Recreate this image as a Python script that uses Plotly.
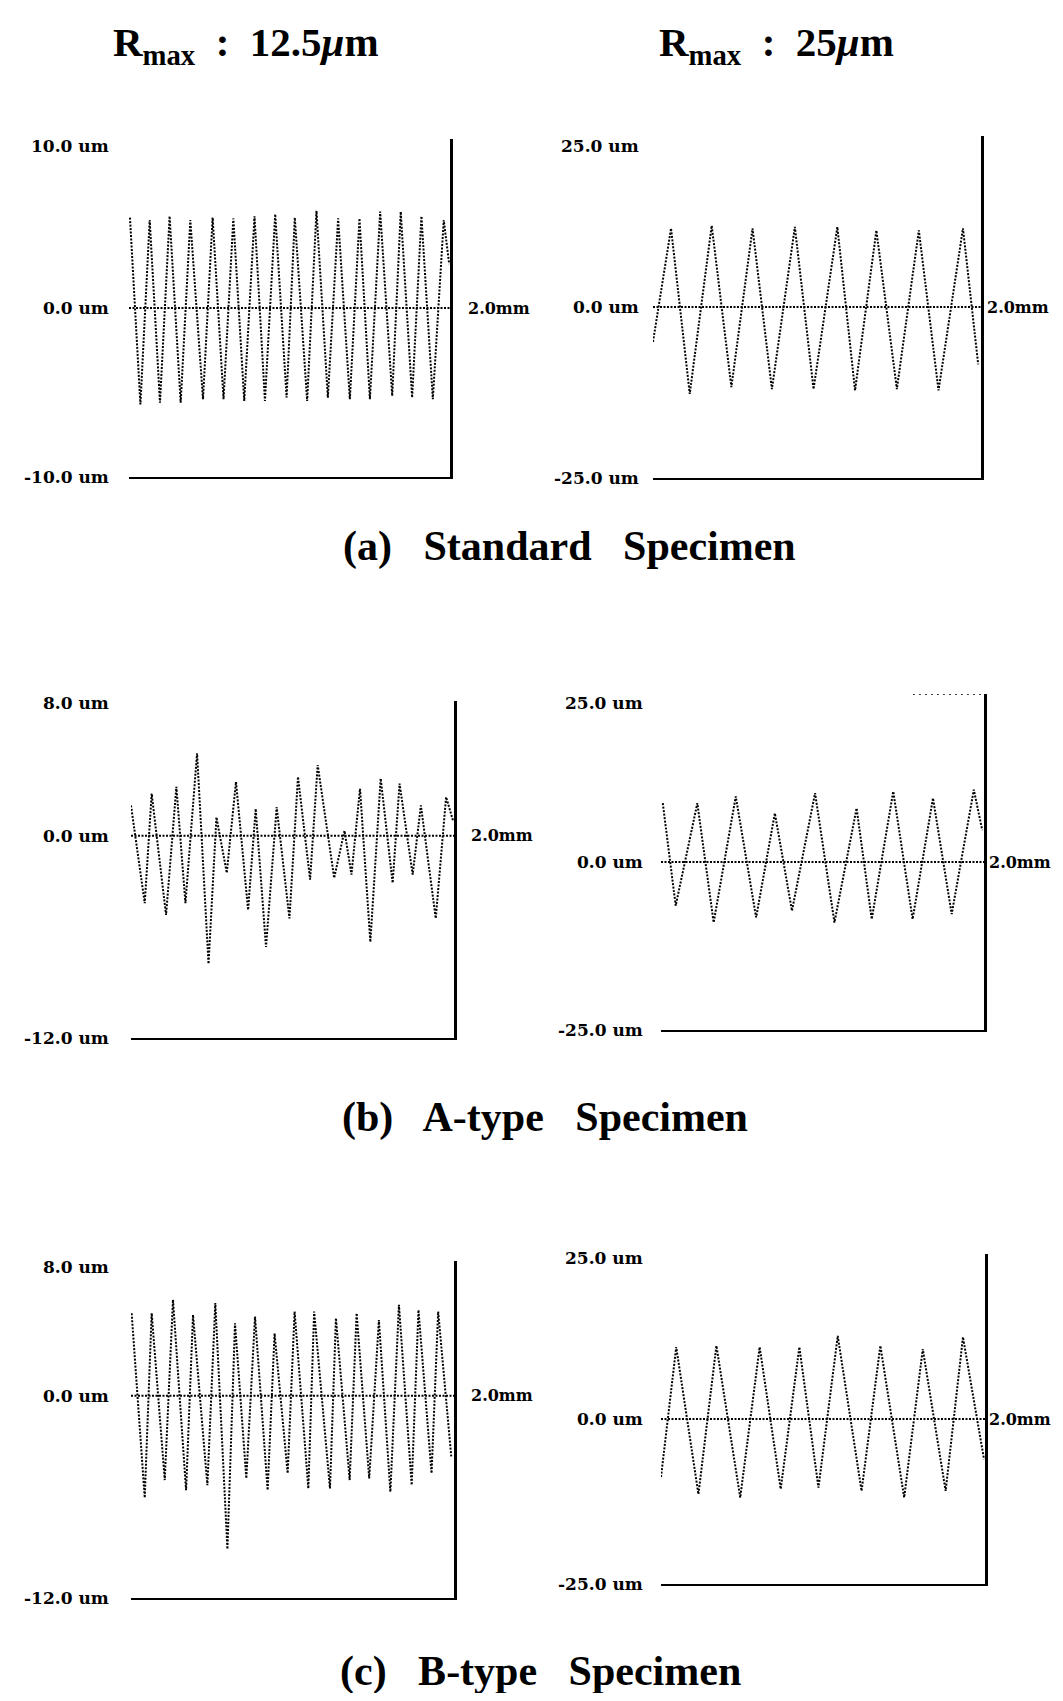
import plotly.graph_objects as go

# ---------------- data (x in mm, y in um) ----------------
a125_x = [0.006, 0.071, 0.129, 0.193, 0.253, 0.322, 0.382, 0.461, 0.521, 0.589, 0.650, 0.718,
          0.782, 0.847, 0.911, 0.982, 1.033, 1.110, 1.168, 1.239, 1.303, 1.376, 1.436, 1.501,
          1.565, 1.640, 1.693, 1.764, 1.822, 1.893, 1.961, 1.995]
a125_y = [5.35, -5.7, 5.2, -5.6, 5.43, -5.6, 5.2, -5.4, 5.35, -5.4, 5.3, -5.5,
          5.43, -5.5, 5.55, -5.3, 5.35, -5.5, 5.75, -5.3, 5.3, -5.4, 5.3, -5.4,
          5.7, -5.2, 5.7, -5.3, 5.43, -5.4, 5.2, 2.6]

a25_x = [0.0, 0.110, 0.224, 0.358, 0.478, 0.607, 0.725, 0.865, 0.979, 1.124, 1.232, 1.362,
         1.487, 1.621, 1.741, 1.890, 1.983]
a25_y = [-5.1, 11.5, -12.7, 11.9, -11.7, 11.5, -12.0, 11.7, -12.0, 11.7, -12.2, 11.2,
         -12.0, 11.2, -12.2, 11.5, -8.4]

b125_x = [0.0, 0.085, 0.128, 0.217, 0.281, 0.337, 0.409, 0.480, 0.529, 0.593, 0.650, 0.725,
          0.772, 0.836, 0.902, 0.981, 1.034, 1.109, 1.156, 1.258, 1.322, 1.365, 1.418, 1.482,
          1.546, 1.620, 1.663, 1.744, 1.795, 1.887, 1.951, 1.994]
b125_y = [1.8, -4.0, 2.5, -4.7, 2.9, -4.0, 4.9, -7.6, 1.1, -2.2, 3.2, -4.4,
          1.6, -6.6, 1.7, -4.9, 3.5, -2.6, 4.2, -2.5, 0.3, -2.3, 2.8, -6.3,
          3.4, -2.8, 3.1, -2.3, 1.8, -4.9, 2.3, 0.9]

b25_x = [0.011, 0.091, 0.225, 0.326, 0.463, 0.589, 0.705, 0.811, 0.954, 1.074, 1.211, 1.305,
         1.438, 1.558, 1.684, 1.800, 1.937, 1.989]
b25_y = [8.75, -6.5, 8.75, -9.0, 9.75, -8.25, 7.25, -7.25, 10.25, -9.0, 8.0, -8.5,
         10.5, -8.5, 9.5, -7.75, 10.75, 4.75]

c125_x = [0.004, 0.085, 0.128, 0.209, 0.260, 0.341, 0.384, 0.473, 0.522, 0.597, 0.644, 0.714,
          0.768, 0.846, 0.889, 0.970, 1.013, 1.098, 1.134, 1.232, 1.269, 1.354, 1.397, 1.475,
          1.535, 1.606, 1.659, 1.738, 1.780, 1.861, 1.902, 1.983]
c125_y = [4.9, -6.05, 4.9, -5.0, 5.7, -5.6, 4.8, -5.3, 5.5, -9.1, 4.3, -4.9,
          4.7, -5.6, 3.7, -4.6, 5.0, -5.5, 5.0, -5.5, 4.6, -5.0, 4.9, -4.9,
          4.5, -5.7, 5.4, -5.3, 5.1, -4.6, 5.0, -3.6]

c25_x = [0.0, 0.094, 0.231, 0.342, 0.489, 0.609, 0.739, 0.854, 0.972, 1.091, 1.238, 1.354,
         1.501, 1.616, 1.757, 1.864, 1.994]
c25_y = [-8.8, 10.9, -11.4, 11.1, -11.9, 10.9, -10.6, 10.9, -10.4, 12.6, -10.9, 11.1,
         -11.9, 10.6, -10.9, 12.4, -6.1]

y_ranges = [(-10.0, 10.0), (-25.0, 25.0), (-12.0, 8.0), (-25.0, 25.0), (-12.0, 8.0), (-25.0, 25.0)]
x_length_label = "2.0mm"
column_titles = ["R<sub>max</sub>  :  12.5<i>μ</i>m", "R<sub>max</sub>  :  25<i>μ</i>m"]
captions = ["(a)   Standard   Specimen", "(b)   A-type   Specimen", "(c)   B-type   Specimen"]

series = [(a125_x, a125_y), (a25_x, a25_y), (b125_x, b125_y),
          (b25_x, b25_y), (c125_x, c125_y), (c25_x, c25_y)]

# ---------------- layout (page pixels) ----------------
W, H = 1047, 1685
OFF = 8


def px2x(p):
    return (p - OFF) / W


def px2y(p):
    return 1 - (p - OFF) / H


# left, right, top, bottom (page px)
frames = [(129, 450, 139, 477), (653, 981, 136, 478),
          (131, 454, 701, 1038), (661, 984, 694, 1030),
          (131, 454, 1261, 1598), (661, 985, 1254, 1584)]
label_right = [111, 641, 111, 645, 111, 645]
mm_left = [466, 985, 469, 987, 469, 987]
top_label_y = [146, 146, 703, 703, 1267, 1258]

fig = go.Figure()
annotations = []
shapes = []
lab_font = dict(family="DejaVu Serif", size=17, color="black", weight="bold")
mm_font = dict(family="DejaVu Serif", size=16, color="black", weight="bold")
dots = dict(color="black", width=2.0, dash="2px,1.5px")

for i, ((xs, ys), (l, r, t, b), (ymin, ymax)) in enumerate(zip(series, frames, y_ranges)):
    k = "" if i == 0 else str(i + 1)
    fig.add_trace(go.Scatter(x=xs, y=ys, mode="lines", line=dots,
                             xaxis="x" + k, yaxis="y" + k, showlegend=False,
                             hoverinfo="skip"))
    fig.layout["xaxis" + k] = dict(domain=[px2x(l), px2x(r)], range=[0, 2.0], anchor="y" + k,
                                   showgrid=False, zeroline=False, showticklabels=False,
                                   ticks="", showline=True, linecolor="black", linewidth=2.2)
    fig.layout["yaxis" + k] = dict(domain=[px2y(b), px2y(t)], range=[ymin, ymax], anchor="x" + k,
                                   side="right", showgrid=False, zeroline=False,
                                   showticklabels=False, ticks="", showline=True,
                                   linecolor="black", linewidth=2.6)
    shapes.append(dict(type="line", xref="x" + k, yref="y" + k, x0=0, x1=2.0, y0=0, y1=0,
                       line=dots))
    zero_py = b - (b - t) * (0 - ymin) / (ymax - ymin)
    for txt, py in [(f"{ymax:.1f} um", top_label_y[i]), ("0.0 um", zero_py), (f"{ymin:.1f} um", b)]:
        annotations.append(dict(text=txt, xref="paper", yref="paper", x=px2x(label_right[i]),
                                y=px2y(py), xanchor="right", yanchor="middle", showarrow=False,
                                font=lab_font))
    annotations.append(dict(text=x_length_label, xref="paper", yref="paper", x=px2x(mm_left[i]),
                            y=px2y(zero_py), xanchor="left", yanchor="middle", showarrow=False,
                            font=mm_font))

# short dotted stroke at the top-right of panel (b) 25 um
shapes.append(dict(type="line", xref="x4", yref="y4", x0=1.56, x1=2.0, y0=25, y1=25,
                   line=dict(color="black", width=1.5, dash="2px,4px")))

title_font = dict(family="Liberation Serif", size=41, color="black", weight="bold")
for txt, px in zip(column_titles, [111, 657]):
    annotations.append(dict(text=txt, xref="paper", yref="paper", x=px2x(px), y=px2y(45),
                            xanchor="left", yanchor="middle", showarrow=False, font=title_font))
cap_font = dict(family="Liberation Serif", size=42, color="black", weight="bold")
for txt, (cx, cy) in zip(captions, [(569, 547), (545, 1117), (540, 1671)]):
    annotations.append(dict(text=txt, xref="paper", yref="paper", x=px2x(cx), y=px2y(cy),
                            xanchor="center", yanchor="middle", showarrow=False,
                            font=cap_font))

fig.update_layout(width=W, height=H, margin=dict(l=0, r=0, t=0, b=0),
                  paper_bgcolor="white", plot_bgcolor="white",
                  annotations=annotations, shapes=shapes, showlegend=False)

fig.write_html("out.html")
